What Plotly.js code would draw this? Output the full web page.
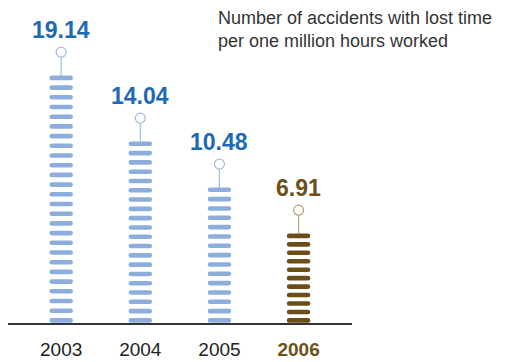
<!DOCTYPE html>
<html><head><meta charset="utf-8">
<script src="https://cdn.plot.ly/plotly-3.0.1.min.js"></script>
<style>
html,body{margin:0;padding:0;background:#fff}
#chart{width:505px;height:362px}
.scatterlayer .stripes .point{stroke-linecap:round}
</style>
</head><body><div id="chart"></div>
<script>
const years = [2003, 2004, 2005, 2006];
const values = [19.14, 14.04, 10.48, 6.91];
const valueLabels = ['19.14', '14.04', '10.48', '6.91'];
const yearLabels = ['2003', '2004', '2005', '2006'];
const stripeCounts = [26, 20, 15, 11];
const highlight = [false, false, false, true];
const titleText = 'Number of accidents with lost time<br>per one million hours worked';

const BLUE_TXT = '#1d6ab4', BLUE_BAR = '#8caedc', BLUE_STEM = '#a3bde2';
const BROWN_TXT = '#6d5017', BROWN_BAR = '#6b4d15', BROWN_STEM = '#b5a27a';
const FONT = 'Liberation Sans, Arial, sans-serif';
const Y_MAX = 25, STEM = 1.82, BASE = 0.2, HALF = 0.17;

// striped bars: each bar is a column of short rounded dashes from the base up to its value
const stripeTraces = years.map((yr, i) => {
  const n = stripeCounts[i];
  const top = values[i] - HALF;
  const ys = [];
  for (let k = 0; k < n; k++) ys.push(BASE + (top - BASE) * k / (n - 1));
  return {
    type: 'scatter', mode: 'markers', x: ys.map(() => yr), y: ys,
    marker: {symbol: 'line-ew', size: 13.5,
      line: {width: 4.6, color: highlight[i] ? BROWN_BAR : BLUE_BAR}},
    hoverinfo: 'skip', cliponaxis: false
  };
});

function stemTrace(flag, color) {
  const idx = years.map((_, i) => i).filter(i => highlight[i] === flag);
  return {
    type: 'scatter', mode: 'markers', cliponaxis: false,
    x: idx.map(i => years[i]), y: idx.map(i => values[i] + STEM),
    error_y: {type: 'data', symmetric: false, array: idx.map(() => 0),
      arrayminus: idx.map(() => STEM), width: 0, thickness: 1.2, color: color},
    marker: {symbol: 'circle', size: 10, color: '#fff', line: {width: 1.2, color: color}},
    hoverinfo: 'skip'
  };
}

const annotations = years.map((yr, i) => ({
  x: yr, y: values[i], xref: 'x', yref: 'y', text: valueLabels[i], showarrow: false,
  yanchor: 'middle', yshift: 46,
  font: {family: FONT, size: 23, color: highlight[i] ? BROWN_TXT : BLUE_TXT, weight: 'bold'}
}));
annotations.push({
  xref: 'paper', yref: 'paper', x: 0.605, y: 1, xanchor: 'left', yanchor: 'top', yshift: -6,
  align: 'left', text: titleText, showarrow: false,
  font: {family: FONT, size: 18, color: '#333'}
});

const layout = {
  width: 505, height: 362, margin: {l: 8, r: 153, t: 0, b: 39},
  paper_bgcolor: '#fff', plot_bgcolor: '#fff', showlegend: false,
  font: {family: FONT},
  xaxis: {
    range: [2002.328, 2006.675], showgrid: false, zeroline: false, showline: true,
    linecolor: '#333', linewidth: 1.5, ticks: '', tickvals: years,
    ticktext: yearLabels.map((t, i) => highlight[i] ? '<b><span style="color:' + BROWN_TXT + '">' + t + '</span></b>' : t),
    tickfont: {family: FONT, size: 19, color: '#222'}, ticklabelstandoff: 9, fixedrange: true
  },
  yaxis: {range: [0, Y_MAX], visible: false, showgrid: false, zeroline: false, fixedrange: true},
  annotations: annotations
};

Plotly.newPlot('chart', stripeTraces.concat([stemTrace(false, BLUE_STEM), stemTrace(true, BROWN_STEM)]), layout,
  {displayModeBar: false, staticPlot: true}).then(gd => {
  const layers = gd.querySelectorAll('.scatterlayer .trace');
  for (let i = 0; i < stripeTraces.length; i++) layers[i].classList.add('stripes');
});
</script></body></html>
